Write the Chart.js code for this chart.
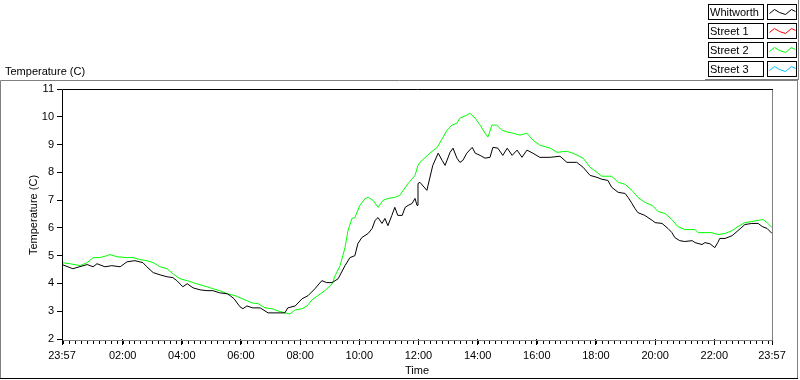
<!DOCTYPE html>
<html><head><meta charset="utf-8">
<script src="https://cdn.jsdelivr.net/npm/chart.js@4/dist/chart.umd.min.js"></script>
<style>html,body{margin:0;padding:0;background:#fff}canvas{display:block}</style>
</head><body>
<canvas id="c" width="800" height="380"></canvas>
<script>
// ---- data (time = minutes after 23:57) ----
const seriesNames = ['Whitworth', 'Street 1', 'Street 2', 'Street 3'];
const seriesColors = ['#000000', '#ff0000', '#00ff00', '#00bfff'];
const xTickMinutes = [0, 123, 243, 363, 483, 603, 723, 843, 963, 1083, 1203, 1323, 1440];
const xTickLabels = ['23:57', '02:00', '04:00', '06:00', '08:00', '10:00', '12:00', '14:00', '16:00', '18:00', '20:00', '22:00', '23:57'];
const yTickValues = [2, 3, 4, 5, 6, 7, 8, 9, 10, 11];

const whitworthTime = [0,22,51,63,71,87,101,118,132,148,164,172,185,199,213,225,233,245,254,266,280,294,306,320,335,341,349,355,361,367,375,387,402,418,432,452,458,473,487,499,513,527,537,548,560,574,584,594,600,608,621,629,635,641,649,655,661,669,675,681,690,696,702,710,716,720,722,726,740,752,763,771,777,787,793,801,807,813,821,832,838,848,858,868,874,884,894,903,913,923,933,943,955,969,990,1010,1024,1044,1057,1071,1085,1095,1107,1115,1128,1142,1148,1156,1162,1168,1182,1197,1203,1217,1229,1237,1243,1253,1263,1278,1284,1298,1304,1314,1324,1330,1334,1345,1359,1371,1385,1399,1412,1420,1430,1440];
const whitworthTemp = [4.68,4.53,4.68,4.60,4.71,4.60,4.64,4.60,4.78,4.82,4.75,4.60,4.39,4.31,4.24,4.21,4.10,3.88,3.99,3.84,3.77,3.74,3.74,3.66,3.63,3.56,3.45,3.30,3.16,3.09,3.19,3.12,3.12,2.94,2.94,2.94,3.12,3.19,3.45,3.56,3.81,4.10,4.03,4.03,4.17,4.64,4.93,5.00,5.43,5.65,5.80,5.98,6.27,6.37,6.16,6.34,6.08,6.45,6.74,6.45,6.45,6.74,6.81,6.88,7.06,6.81,7.60,7.64,7.35,8.25,8.69,8.43,8.25,8.72,8.87,8.51,8.36,8.43,8.69,8.90,8.69,8.61,8.51,8.54,8.90,8.87,8.61,8.87,8.61,8.80,8.54,8.80,8.69,8.54,8.54,8.58,8.36,8.36,8.18,7.89,7.82,7.75,7.71,7.46,7.28,7.24,7.10,6.88,6.70,6.55,6.45,6.27,6.19,6.16,5.98,5.83,5.65,5.54,5.51,5.54,5.47,5.40,5.47,5.43,5.29,5.47,5.62,5.62,5.72,5.90,6.12,6.16,6.16,6.05,5.98,5.80];

const street1Time = [];
const street1Temp = [];

const street2Time = [0,16,37,51,63,77,91,97,112,132,144,158,172,185,199,213,225,239,254,266,280,294,306,320,335,351,371,385,398,412,426,438,452,462,473,487,497,507,519,533,548,554,564,574,580,588,594,604,615,621,631,641,651,661,675,685,692,702,716,722,726,746,761,773,781,791,801,807,821,827,838,848,858,864,872,882,892,903,915,929,943,955,969,990,1004,1024,1036,1057,1071,1085,1095,1115,1128,1142,1156,1168,1182,1197,1209,1223,1237,1249,1263,1284,1290,1318,1330,1345,1359,1371,1385,1399,1412,1422,1430,1440];
const street2Temp = [4.75,4.71,4.64,4.75,4.93,4.93,5.00,5.04,4.96,4.93,4.93,4.86,4.82,4.75,4.60,4.53,4.35,4.17,4.10,4.03,3.95,3.88,3.81,3.74,3.63,3.56,3.41,3.30,3.27,3.12,3.09,3.01,2.94,2.90,3.05,3.09,3.19,3.41,3.56,3.74,3.99,4.28,4.64,5.29,5.90,6.34,6.37,6.81,7.06,7.10,6.99,6.74,6.99,7.06,7.10,7.17,7.35,7.60,7.89,8.25,8.36,8.69,8.90,9.27,9.52,9.70,9.77,9.95,10.06,10.13,9.95,9.70,9.41,9.27,9.70,9.70,9.52,9.45,9.41,9.34,9.41,9.16,8.98,8.87,8.72,8.76,8.69,8.51,8.18,8.00,7.86,7.86,7.64,7.57,7.35,7.10,6.92,6.81,6.59,6.52,6.30,6.05,5.94,5.94,5.83,5.83,5.76,5.80,5.90,6.05,6.19,6.23,6.27,6.30,6.19,6.01];

const street3Time = [];
const street3Temp = [];

const FONT = 'Liberation Sans, Arial, sans-serif';

function pts(t, v) { return t.map((m, i) => ({ x: m, y: v[i] })); }

const decor = {
  id: 'decor',
  afterDraw(chart) {
    const ctx = chart.ctx;
    const a = chart.chartArea;
    const xs = chart.scales.x;
    ctx.save();
    ctx.lineWidth = 1;
    // outer frame
    ctx.strokeStyle = '#808080';
    ctx.beginPath();
    ctx.moveTo(0.5, 378); ctx.lineTo(0.5, 80.5); ctx.lineTo(798, 80.5);
    ctx.moveTo(797.5, 80); ctx.lineTo(797.5, 378);
    ctx.stroke();
    ctx.strokeStyle = '#000';
    ctx.beginPath();
    ctx.moveTo(0, 378.5); ctx.lineTo(798, 378.5);
    ctx.stroke();
    // plot frame
    ctx.strokeStyle = '#000';
    ctx.beginPath();
    ctx.moveTo(a.left + 0.5, a.bottom + 1); ctx.lineTo(a.left + 0.5, a.top + 0.5); ctx.lineTo(a.right + 1, a.top + 0.5);
    ctx.stroke();
    ctx.strokeStyle = '#808080';
    ctx.beginPath();
    ctx.moveTo(a.right + 0.5, a.top + 1); ctx.lineTo(a.right + 0.5, a.bottom + 1.5); ctx.lineTo(a.left + 1, a.bottom + 1.5);
    ctx.stroke();
    // minor x ticks
    ctx.strokeStyle = '#000';
    ctx.beginPath();
    for (let m = 3; m < 1440; m += 12) {
      const px = Math.round(xs.getPixelForValue(m)) + 0.5;
      ctx.moveTo(px, a.bottom + 2); ctx.lineTo(px, a.bottom + 5);
    }
    ctx.stroke();
    // titles
    ctx.fillStyle = '#000';
    ctx.font = '11px ' + FONT;
    ctx.textBaseline = 'alphabetic';
    ctx.textAlign = 'left';
    ctx.fillText('Temperature (C)', 5, 75);
    ctx.textAlign = 'center';
    ctx.fillText('Time', (a.left + a.right) / 2, 374);
    ctx.save();
    ctx.translate(37, (a.top + a.bottom) / 2 + 1);
    ctx.rotate(-Math.PI / 2);
    ctx.fillText('Temperature (C)', 0, 0);
    ctx.restore();
    // legend panel
    ctx.strokeStyle = '#808080';
    ctx.beginPath();
    ctx.moveTo(705, 79.5); ctx.lineTo(798, 79.5);
    ctx.moveTo(798.5, 0); ctx.lineTo(798.5, 80);
    ctx.stroke();
    const zig = [[0, 5], [5, 1], [10, 4], [16, 6], [22, 1], [26, 3]];
    seriesNames.forEach((name, i) => {
      const top = 4 + i * 19;
      ctx.strokeStyle = '#000';
      ctx.fillStyle = '#fff';
      ctx.fillRect(708, top, 55, 15);
      ctx.strokeRect(708.5, top + 0.5, 55, 15);
      ctx.fillRect(767, top, 29, 15);
      ctx.strokeRect(767.5, top + 0.5, 29, 15);
      ctx.fillStyle = '#000';
      ctx.textAlign = 'left';
      ctx.fillText(name, 710, top + 12);
      ctx.strokeStyle = seriesColors[i];
      ctx.beginPath();
      zig.forEach((p, k) => {
        const X = 769.5 + p[0], Y = top + 4.5 + p[1];
        if (k === 0) ctx.moveTo(X, Y); else ctx.lineTo(X, Y);
      });
      ctx.stroke();
    });
    ctx.restore();
  }
};

new Chart(document.getElementById('c'), {
  type: 'line',
  data: {
    datasets: [
      { label: seriesNames[0], data: pts(whitworthTime, whitworthTemp), borderColor: seriesColors[0] },
      { label: seriesNames[1], data: pts(street1Time, street1Temp), borderColor: seriesColors[1] },
      { label: seriesNames[2], data: pts(street2Time, street2Temp), borderColor: seriesColors[2] },
      { label: seriesNames[3], data: pts(street3Time, street3Temp), borderColor: seriesColors[3] }
    ].map(d => Object.assign(d, { borderWidth: 1, pointRadius: 0, tension: 0, fill: false }))
  },
  options: {
    responsive: false,
    animation: false,
    devicePixelRatio: 1,
    layout: { padding: { left: 0, top: 89, right: 28, bottom: 0 } },
    plugins: { legend: { display: false }, tooltip: { enabled: false }, title: { display: false } },
    scales: {
      x: {
        type: 'linear', min: 0, max: 1440,
        afterBuildTicks: s => { s.ticks = xTickMinutes.map(v => ({ value: v })); },
        afterFit: s => { s.height = 41; },
        ticks: {
          autoSkip: false, maxRotation: 0, minRotation: 0, padding: 4,
          color: '#000', font: { family: FONT, size: 11 },
          callback: (v, i) => xTickLabels[i]
        },
        grid: { display: true, drawOnChartArea: false, drawTicks: true, tickLength: 6, color: '#000', offset: false },
        border: { display: false }
      },
      y: {
        type: 'linear', min: 2, max: 11,
        afterBuildTicks: s => { s.ticks = yTickValues.map(v => ({ value: v })); },
        afterFit: s => { s.width = 62; },
        ticks: { padding: 3, color: '#000', font: { family: FONT, size: 11 } },
        grid: { display: true, drawOnChartArea: false, drawTicks: true, tickLength: 5, color: '#000' },
        border: { display: false }
      }
    }
  },
  plugins: [decor]
});
</script>
</body></html>
